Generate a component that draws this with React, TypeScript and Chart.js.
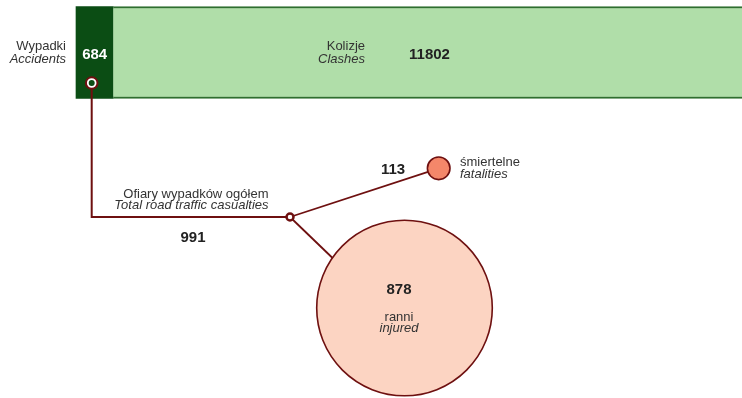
import React, { useEffect, useRef } from "react";
import { Chart, registerables } from "chart.js";

Chart.register(...registerables);

// ---------- DATA ----------
const barLabelsPl = ["Wypadki", "Kolizje"];
const barLabelsEn = ["Accidents", "Clashes"];
const barValues = [684, 11802];

const totalLabelPl = "Ofiary wypadków ogółem";
const totalLabelEn = "Total road traffic casualties";
const totalValue = 991;

const casualtyLabelsPl = ["śmiertelne", "ranni"];
const casualtyLabelsEn = ["fatalities", "injured"];
const casualtyValues = [113, 878];

// ---------- LAYOUT (diagram units = 742 x 398 space) ----------
const W = 742;
const H = 398;
const BAR_ROW = 52.5;
const BAR_ZERO_PX = 76;
const BAR_UNITS_PER_PX = 684 / 37.3;
const BAR_THICKNESS = 92;
const ACC_NODE = { x: 91.7, y: 83 };
const HUB = { x: 290, y: 217 };
const FAT_POS = { x: 438.7, y: 168.3 };
const INJ_POS = { x: 404.5, y: 308 };
const INJ_LINK_END = { x: 372, y: 296 };
const RADIUS_PER_UNIT = 0.1;

// ---------- STYLE ----------
const DARK_GREEN = "#0b4d14";
const LIGHT_GREEN = "#b0dea9";
const BAR_EDGE = "#2f6e2f";
const LINK = "#6e1010";
const FAT_FILL = "#f4876a";
const INJ_FILL = "#fcd4c2";
const TEXT = "#333333";
const NUM = "#222222";
const FONT = "'Liberation Sans', Arial, sans-serif";

type Lbl = {
  text: string;
  x: number;
  y: number;
  align: CanvasTextAlign;
  style: "n" | "i" | "b";
  color?: string;
};

function makeLabelsPlugin(barChart: any) {
  return {
    id: "diagramLabels",
    afterDatasetsDraw(chart: any) {
      const { ctx, scales } = chart;
      const sx = scales.x;
      const sy = scales.y;
      const sb = barChart.scales.xBar;
      const lbls: Lbl[] = [
        { text: barLabelsPl[0], x: sx.getPixelForValue(66), y: sy.getPixelForValue(50), align: "right", style: "n" },
        { text: barLabelsEn[0], x: sx.getPixelForValue(66), y: sy.getPixelForValue(63), align: "right", style: "i" },
        { text: String(barValues[0]), x: sb.getPixelForValue(barValues[0] / 2), y: sy.getPixelForValue(58.5), align: "center", style: "b", color: "#ffffff" },
        { text: barLabelsPl[1], x: sx.getPixelForValue(365), y: sy.getPixelForValue(50), align: "right", style: "n" },
        { text: barLabelsEn[1], x: sx.getPixelForValue(365), y: sy.getPixelForValue(63), align: "right", style: "i" },
        { text: String(barValues[1]), x: sx.getPixelForValue(429.5), y: sy.getPixelForValue(59), align: "center", style: "b" },
        { text: totalLabelPl, x: sx.getPixelForValue(268.5), y: sy.getPixelForValue(197.5), align: "right", style: "n" },
        { text: totalLabelEn, x: sx.getPixelForValue(268.5), y: sy.getPixelForValue(209), align: "right", style: "i" },
        { text: String(totalValue), x: sx.getPixelForValue(193), y: sy.getPixelForValue(242), align: "center", style: "b" },
        { text: String(casualtyValues[0]), x: sx.getPixelForValue(393), y: sy.getPixelForValue(174), align: "center", style: "b" },
        { text: casualtyLabelsPl[0], x: sx.getPixelForValue(460), y: sy.getPixelForValue(166), align: "left", style: "n" },
        { text: casualtyLabelsEn[0], x: sx.getPixelForValue(460), y: sy.getPixelForValue(177.5), align: "left", style: "i" },
        { text: String(casualtyValues[1]), x: sx.getPixelForValue(399), y: sy.getPixelForValue(294), align: "center", style: "b" },
        { text: casualtyLabelsPl[1], x: sx.getPixelForValue(399), y: sy.getPixelForValue(321), align: "center", style: "n" },
        { text: casualtyLabelsEn[1], x: sx.getPixelForValue(399), y: sy.getPixelForValue(332), align: "center", style: "i" },
      ];
      ctx.save();
      ctx.textBaseline = "alphabetic";
      for (const l of lbls) {
        if (l.style === "b") ctx.font = `bold 15px ${FONT}`;
        else if (l.style === "i") ctx.font = `italic 13px ${FONT}`;
        else ctx.font = `13px ${FONT}`;
        ctx.fillStyle = l.color || (l.style === "b" ? NUM : TEXT);
        ctx.textAlign = l.align;
        ctx.fillText(l.text, l.x, l.y);
      }
      ctx.restore();
    },
  };
}

export default function App() {
  const barRef = useRef<HTMLCanvasElement | null>(null);
  const diaRef = useRef<HTMLCanvasElement | null>(null);

  useEffect(() => {
    if (!barRef.current || !diaRef.current) return;

    // ---- stacked (floating) horizontal bar: accidents + clashes ----
    const barData = barValues.map((v, i) => {
      const start = barValues.slice(0, i).reduce((a, b) => a + b, 0);
      return { x: [start, start + v], y: BAR_ROW };
    });
    const barChart = new Chart(barRef.current, {
      type: "scatter",
      data: {
        datasets: [
          {
            type: "bar",
            indexAxis: "y",
            xAxisID: "xBar",
            yAxisID: "yBar",
            data: barData,
            backgroundColor: [DARK_GREEN, LIGHT_GREEN],
            borderColor: BAR_EDGE,
            borderWidth: (c: any) => (c.dataIndex === 1 ? { top: 2, bottom: 2, left: 0, right: 0 } : 0),
            borderSkipped: false,
            barThickness: BAR_THICKNESS,
          } as any,
        ],
      },
      options: {
        animation: false,
        responsive: false,
        layout: { padding: 0, autoPadding: false },
        events: [],
        plugins: { legend: { display: false }, tooltip: { enabled: false } },
        scales: {
          x: { type: "linear", min: 0, max: W, display: false },
          y: { type: "linear", min: 0, max: H, reverse: true, display: false },
          yBar: { type: "linear", axis: "y", position: "right", min: 0, max: H, reverse: true, offset: false, display: false },
          xBar: {
            type: "linear",
            axis: "x",
            position: "top",
            min: -BAR_ZERO_PX * BAR_UNITS_PER_PX,
            max: (W - BAR_ZERO_PX) * BAR_UNITS_PER_PX,
            display: false,
          },
        },
      } as any,
    });

    // ---- casualty diagram: links, bubbles, nodes, labels ----
    const diaChart = new Chart(diaRef.current, {
      type: "scatter",
      data: {
        datasets: [
          {
            type: "line",
            label: "link-total",
            data: [ACC_NODE, { x: ACC_NODE.x, y: HUB.y }, HUB],
            borderColor: LINK,
            borderWidth: 2,
            pointRadius: 0,
            tension: 0,
            fill: false,
            order: 5,
          } as any,
          {
            type: "line",
            label: "link-fatal",
            data: [HUB, FAT_POS],
            borderColor: LINK,
            borderWidth: 1.8,
            pointRadius: 0,
            tension: 0,
            fill: false,
            order: 5,
          } as any,
          {
            type: "line",
            label: "link-injured",
            data: [HUB, INJ_LINK_END],
            borderColor: LINK,
            borderWidth: 1.8,
            pointRadius: 0,
            tension: 0,
            fill: false,
            order: 5,
          } as any,
          {
            type: "bubble",
            label: casualtyLabelsEn[1],
            data: [{ x: INJ_POS.x, y: INJ_POS.y, r: casualtyValues[1] * RADIUS_PER_UNIT }],
            backgroundColor: INJ_FILL,
            borderColor: LINK,
            borderWidth: 1.6,
            order: 3,
          } as any,
          {
            type: "bubble",
            label: casualtyLabelsEn[0],
            data: [{ x: FAT_POS.x, y: FAT_POS.y, r: casualtyValues[0] * RADIUS_PER_UNIT }],
            backgroundColor: FAT_FILL,
            borderColor: LINK,
            borderWidth: 1.6,
            order: 3,
          } as any,
          {
            type: "scatter",
            label: "hub",
            data: [HUB],
            pointRadius: 3.5,
            pointBackgroundColor: "#ffffff",
            pointBorderColor: LINK,
            pointBorderWidth: 2.5,
            order: 2,
          } as any,
          {
            type: "scatter",
            label: "acc-node",
            data: [ACC_NODE],
            pointRadius: 5.8,
            pointBackgroundColor: "#ffffff",
            pointBorderColor: LINK,
            pointBorderWidth: 2,
            order: 2,
          } as any,
          {
            type: "scatter",
            label: "acc-node-core",
            data: [ACC_NODE],
            pointRadius: 3,
            pointBackgroundColor: DARK_GREEN,
            pointBorderWidth: 0,
            order: 1,
          } as any,
        ],
      },
      options: {
        animation: false,
        responsive: false,
        layout: { padding: 0, autoPadding: false },
        events: [],
        plugins: {
          legend: { display: false },
          tooltip: { enabled: false },
          title: { display: false },
        },
        scales: {
          x: { type: "linear", min: 0, max: W, display: false },
          y: { type: "linear", min: 0, max: H, reverse: true, display: false },
        },
      } as any,
      plugins: [makeLabelsPlugin(barChart)],
    });

    return () => {
      diaChart.destroy();
      barChart.destroy();
    };
  }, []);

  return (
    <div style={{ position: "absolute", left: 0, top: 0, width: W, height: H, background: "#ffffff" }}>
      <canvas ref={barRef} width={W} height={H} style={{ display: "block", position: "absolute", left: 0, top: 0 }} />
      <canvas ref={diaRef} width={W} height={H} style={{ display: "block", position: "absolute", left: 0, top: 0 }} />
    </div>
  );
}
